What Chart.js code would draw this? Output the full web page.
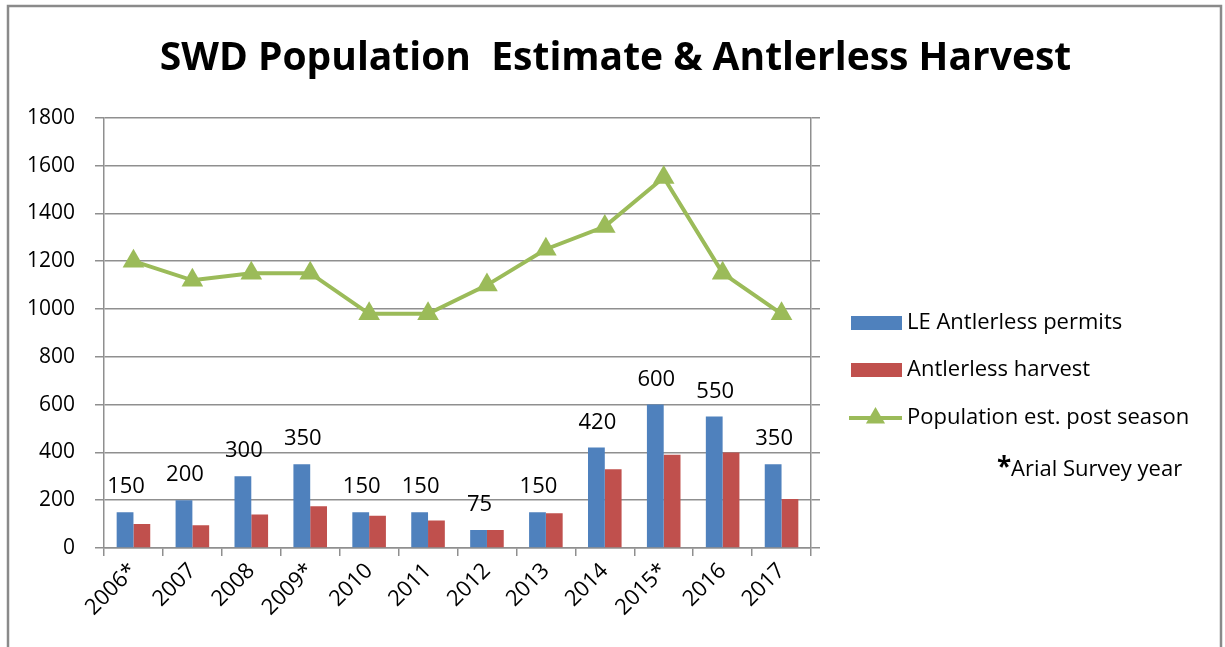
<!DOCTYPE html>
<html>
<head>
<meta charset="utf-8">
<script src="https://cdn.jsdelivr.net/npm/chart.js@4.4.1/dist/chart.umd.min.js"></script>
<style>
  html, body { margin: 0; padding: 0; background: #ffffff; }
  #wrap { width: 1225px; height: 647px; position: relative; }
</style>
</head>
<body>
<div id="wrap"><canvas id="c" width="1225" height="647"></canvas></div>
<script>
const years = ['2006*', '2007', '2008', '2009*', '2010', '2011', '2012', '2013', '2014', '2015*', '2016', '2017'];
const permits = [150, 200, 300, 350, 150, 150, 75, 150, 420, 600, 550, 350];
const harvest = [100, 95, 140, 175, 135, 115, 75, 145, 330, 390, 400, 205];
const population = [1200, 1120, 1150, 1150, 980, 980, 1100, 1250, 1345, 1550, 1150, 980];
const yTicks = [0, 200, 400, 600, 800, 1000, 1200, 1400, 1600, 1800];
const titleText = 'SWD Population  Estimate & Antlerless Harvest';
const noteText = 'Arial Survey year';

const FONT = '"Open Sans", Lato, sans-serif';
const GRID = '#8f8f8f';

const framePlugin = {
  id: 'frame',
  beforeDraw(chart) {
    const ctx = chart.ctx;
    ctx.save();
    ctx.fillStyle = '#ffffff';
    ctx.fillRect(0, 0, chart.width, chart.height);
    ctx.strokeStyle = '#8a8a8a';
    ctx.lineWidth = 2.5;
    ctx.strokeRect(8, 6, 1213, 700);
    ctx.restore();
  }
};

const labelPlugin = {
  id: 'barLabels',
  afterDatasetsDraw(chart) {
    const ctx = chart.ctx;
    const meta = chart.getDatasetMeta(1);
    ctx.save();
    ctx.font = '22px ' + FONT;
    ctx.fillStyle = '#000000';
    ctx.textAlign = 'center';
    ctx.textBaseline = 'alphabetic';
    meta.data.forEach((bar, i) => {
      ctx.fillText(String(permits[i]), bar.x + 1, bar.y - 19);
    });
    ctx.restore();
  }
};

const legendPlugin = {
  id: 'customLegend',
  afterDraw(chart) {
    const ctx = chart.ctx;
    const ds = chart.data.datasets;
    const items = [ds[1], ds[2], ds[0]];
    const x0 = 851, boxW = 51, boxH = 14, tx = 907;
    const ys = [323, 370, 418];
    ctx.save();
    ctx.font = '22px ' + FONT;
    ctx.textBaseline = 'middle';
    ctx.textAlign = 'left';
    items.forEach((d, i) => {
      const y = ys[i];
      if (d.type === 'line') {
        ctx.strokeStyle = d.borderColor;
        ctx.lineWidth = 4;
        ctx.beginPath();
        ctx.moveTo(x0 - 2, y);
        ctx.lineTo(x0 + boxW, y);
        ctx.stroke();
        const r = 11, cx = x0 + boxW / 2 - 1;
        ctx.fillStyle = d.borderColor;
        ctx.beginPath();
        ctx.moveTo(cx, y - r);
        ctx.lineTo(cx + r * 0.87, y + r * 0.5);
        ctx.lineTo(cx - r * 0.87, y + r * 0.5);
        ctx.closePath();
        ctx.fill();
      } else {
        ctx.fillStyle = d.backgroundColor;
        ctx.fillRect(x0, y - boxH / 2, boxW, boxH);
      }
      ctx.fillStyle = '#000000';
      ctx.fillText(d.label, tx, y);
    });
    ctx.font = 'bold 26px ' + FONT;
    ctx.fillText('*', 997, 469);
    ctx.font = '22px ' + FONT;
    ctx.fillText(noteText, 1011, 470);
    ctx.restore();
  }
};

new Chart(document.getElementById('c'), {
  data: {
    labels: years,
    datasets: [
      {
        type: 'line',
        label: 'Population est. post season',
        data: population,
        borderColor: '#9BBB59',
        backgroundColor: '#9BBB59',
        borderWidth: 4,
        pointStyle: 'triangle',
        pointRadius: 12.5,
        pointBackgroundColor: '#9BBB59',
        pointBorderColor: '#9BBB59',
        pointBorderWidth: 0,
        tension: 0,
        order: 0,
        yAxisID: 'y'
      },
      {
        type: 'bar',
        label: 'LE Antlerless permits',
        data: permits,
        backgroundColor: '#4F81BD',
        categoryPercentage: 0.57,
        barPercentage: 1.0,
        order: 1,
        yAxisID: 'y'
      },
      {
        type: 'bar',
        label: 'Antlerless harvest',
        data: harvest,
        backgroundColor: '#C0504D',
        categoryPercentage: 0.57,
        barPercentage: 1.0,
        order: 2,
        yAxisID: 'y'
      }
    ]
  },
  options: {
    responsive: false,
    animation: false,
    layout: { padding: { left: 6, right: 0, top: 0, bottom: 0 } },
    plugins: {
      legend: { display: false },
      tooltip: { enabled: false },
      title: {
        display: true,
        text: titleText,
        color: '#000000',
        font: { family: FONT, size: 39, weight: 'bold', lineHeight: 1.2 },
        padding: { top: 35, bottom: 36 }
      }
    },
    scales: {
      x: {
        offset: true,
        grid: {
          display: true,
          drawOnChartArea: false,
          drawTicks: true,
          tickLength: 8,
          color: GRID,
          lineWidth: 1.5,
          offset: true
        },
        border: { display: true, color: GRID, width: 1.5 },
        ticks: {
          autoSkip: false,
          minRotation: 45,
          maxRotation: 45,
          padding: 2,
          color: '#000000',
          font: { family: FONT, size: 22 }
        },
        afterFit(scale) { scale.height = 99; }
      },
      y: {
        position: 'left',
        min: 0,
        max: 1800,
        afterBuildTicks(scale) { scale.ticks = yTicks.map(v => ({ value: v })); },
        grid: { color: GRID, lineWidth: 1.5, tickLength: 9, drawTicks: true },
        border: { display: true, color: GRID, width: 1.5 },
        ticks: {
          padding: 20,
          color: '#000000',
          font: { family: FONT, size: 21 },
          callback: (v) => String(v)
        },
        afterFit(scale) { scale.width = 98; }
      },
      y2: {
        position: 'right',
        min: 0,
        max: 1800,
        afterBuildTicks(scale) { scale.ticks = yTicks.map(v => ({ value: v })); },
        grid: { drawOnChartArea: false, color: GRID, lineWidth: 1.5, tickLength: 9, drawTicks: true },
        border: { display: true, color: GRID, width: 1.5 },
        ticks: { display: false },
        afterFit(scale) { scale.width = 414; }
      }
    }
  },
  plugins: [framePlugin, labelPlugin, legendPlugin]
});
</script>
</body>
</html>
